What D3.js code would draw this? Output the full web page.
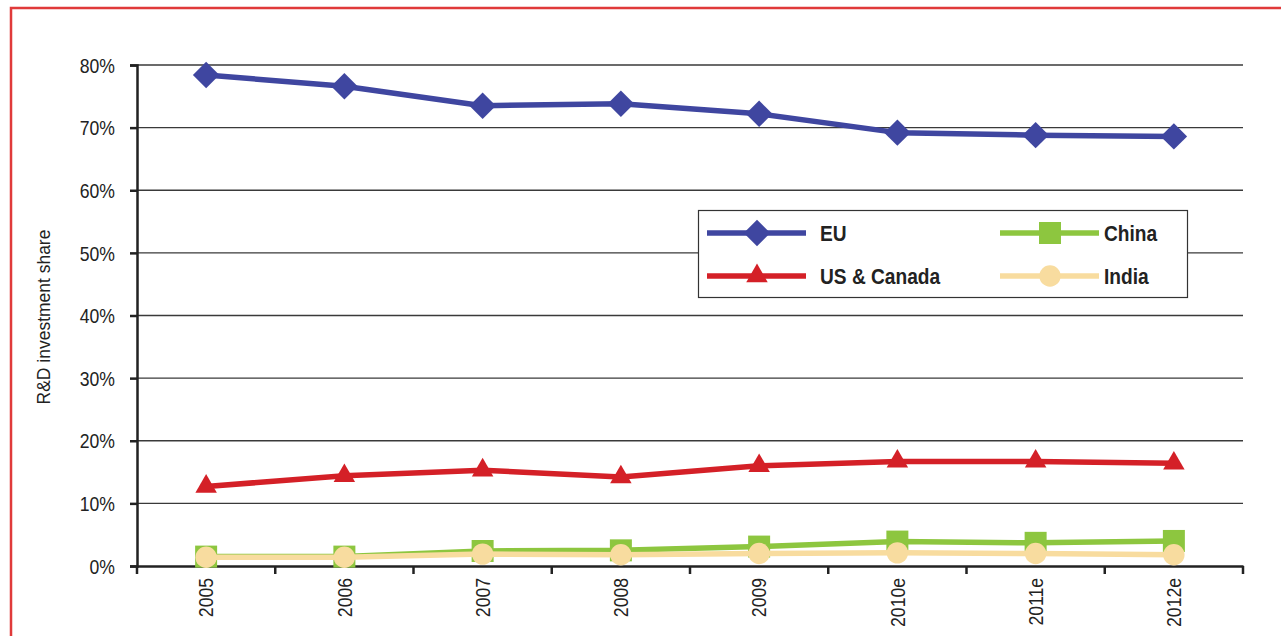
<!DOCTYPE html>
<html><head><meta charset="utf-8">
<script src="https://cdn.jsdelivr.net/npm/d3@7"></script>
<style>
body{margin:0;background:#fff;}
svg{display:block;}
svg text{font-family:"Liberation Sans Narrow","Liberation Sans",Arial,sans-serif;}
</style></head>
<body><svg id="c" width="1281" height="636"></svg>
<script>
const categories = ["2005","2006","2007","2008","2009","2010e","2011e","2012e"];
const euValues    = [78.4, 76.6, 73.5, 73.8, 72.2, 69.2, 68.8, 68.6];
const usValues    = [12.7, 14.4, 15.3, 14.2, 16.0, 16.7, 16.7, 16.4];
const chinaValues = [1.5, 1.5, 2.4, 2.5, 3.1, 3.9, 3.7, 4.0];
const indiaValues = [1.4, 1.4, 1.9, 1.8, 2.0, 2.1, 2.0, 1.8];
const yTicks = [0,10,20,30,40,50,60,70,80];
const seriesNames = ["EU","US & Canada","China","India"];
const yTitle = "R&D investment share";

const diamond = {draw(ctx,size){const r=Math.sqrt(size)/2;ctx.moveTo(0,-r);ctx.lineTo(r,0);ctx.lineTo(0,r);ctx.lineTo(-r,0);ctx.closePath();}};
const series = [
  {name:seriesNames[0], values:euValues, color:"#3f46a0", symbol:diamond, size:700},
  {name:seriesNames[1], values:usValues, color:"#d42027", symbol:d3.symbolTriangle, size:200},
  {name:seriesNames[2], values:chinaValues, color:"#8dc63f", symbol:d3.symbolSquare, size:484},
  {name:seriesNames[3], values:indiaValues, color:"#f8dc9f", symbol:d3.symbolCircle, size:360}
];

const svg = d3.select("#c");
svg.append("path").attr("d","M11,640 L11,8 L1290,8").attr("fill","none").attr("stroke","#e03a3a").attr("stroke-width",2.5);

const L=137, R=1243, T=65, B=566;
const x = d3.scaleBand().domain(categories).range([L,R]);
const y = d3.scaleLinear().domain([0,80]).range([B,T]);
const SX = 0.88;

svg.append("g").selectAll("line").data(yTicks.filter(v=>v>0)).join("line")
  .attr("x1",L).attr("x2",R).attr("y1",d=>y(d)).attr("y2",d=>y(d))
  .attr("stroke","#3a3a3a").attr("stroke-width",1.4);

// y axis
const ya = svg.append("g").attr("transform",`translate(${L},0)`)
  .call(d3.axisLeft(y).tickValues(yTicks).tickFormat(d=>d+"%").tickSize(7).tickPadding(6));
ya.attr("font-family",null).attr("font-size",null);
ya.select(".domain").attr("stroke","#222").attr("stroke-width",2.5);
ya.selectAll(".tick line").attr("stroke","#222").attr("stroke-width",2.5);
ya.selectAll(".tick text").attr("x",0).attr("dy","0.36em")
  .attr("transform",`translate(-22,0) scale(${SX},1)`).attr("font-size",20).attr("fill","#222");

// x axis
const xa = svg.append("g").attr("transform",`translate(0,${B})`)
  .call(d3.axisBottom(x).tickSize(0).tickPadding(0));
xa.attr("font-family",null).attr("font-size",null);
xa.select(".domain").attr("stroke","#222").attr("stroke-width",2.5);
xa.selectAll(".tick text").attr("transform",`translate(0,12) rotate(-90) scale(${SX},1)`).attr("text-anchor","end")
  .attr("dy","0.36em").attr("x",0).attr("y",0).attr("font-size",20).attr("fill","#222");
const bounds = categories.map(c=>x(c)).concat([R]);
svg.append("g").selectAll("line").data(bounds).join("line")
  .attr("x1",d=>d).attr("x2",d=>d).attr("y1",B).attr("y2",B+8)
  .attr("stroke","#222").attr("stroke-width",2.5);

svg.append("text").attr("transform",`translate(50,317) rotate(-90) scale(0.92,1)`)
  .attr("text-anchor","middle").attr("font-size",19).attr("fill","#222").text(yTitle);

const cx = c=>x(c)+x.bandwidth()/2;
const line = d3.line().x((d,i)=>cx(categories[i])).y(d=>y(d));

series.forEach(s=>{
  const g = svg.append("g");
  g.append("path").datum(s.values).attr("d",line).attr("fill","none")
    .attr("stroke",s.color).attr("stroke-width",5.5).attr("stroke-linejoin","round");
  g.selectAll("path.m").data(s.values).join("path").attr("class","m")
    .attr("d",d3.symbol().type(s.symbol).size(s.size))
    .attr("transform",(d,i)=>`translate(${cx(categories[i])},${y(d)})`)
    .attr("fill",s.color);
});

// legend
const lg = svg.append("g");
lg.append("rect").attr("x",698.5).attr("y",210.5).attr("width",489).attr("height",87)
  .attr("fill","#fff").attr("stroke","#333").attr("stroke-width",1.2);
const pos = [[707,233],[707,276],[1000,233],[1000,276]];
series.forEach((s,i)=>{
  const [lx,ly]=pos[i];
  lg.append("line").attr("x1",lx).attr("x2",lx+99).attr("y1",ly).attr("y2",ly)
    .attr("stroke",s.color).attr("stroke-width",5.5);
  lg.append("path").attr("d",d3.symbol().type(s.symbol).size(s.size))
    .attr("transform",`translate(${lx+50},${ly})`).attr("fill",s.color);
  lg.append("text").attr("transform",`translate(${i<2 ? lx+113 : lx+104},${ly}) scale(0.87,1)`).attr("dy","0.36em")
    .attr("font-size",22).attr("font-weight","bold").attr("fill","#222").text(s.name);
});
</script></body></html>
